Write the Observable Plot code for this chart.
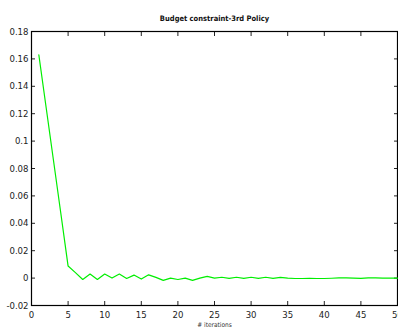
<!DOCTYPE html>
<html>
<head>
<meta charset="utf-8">
<script src="https://cdn.jsdelivr.net/npm/d3@7"></script>
<script src="https://cdn.jsdelivr.net/npm/@observablehq/plot@0.6"></script>
<style>
  html, body { margin: 0; padding: 0; background: #fff; }
  #chart svg { display: block; }
</style>
</head>
<body>
<div id="chart"></div>
<script>
const title = "Budget constraint-3rd Policy";
const xLabel = "# iterations";
const iterations = [1,2,3,4,5,6,7,8,9,10,11,12,13,14,15,16,17,18,19,20,21,22,23,24,25,26,27,28,29,30,31,32,33,34,35,36,37,38,39,40,41,42,43,44,45,46,47,48,49,50];
const budget = [0.163,0.1245,0.086,0.0475,0.0088,0.004,-0.001,0.003,-0.001,0.003,0.0,0.003,-0.0003,0.0022,-0.0007,0.0024,0.0005,-0.0017,0.0,-0.001,0.0,-0.0017,0.0,0.0012,0.0,0.0006,-0.0002,0.0006,-0.0002,0.0006,-0.0002,0.0006,-0.0002,0.0005,0.0,-0.0003,-0.0003,-0.0002,-0.0003,-0.0003,-0.0001,0.0001,0.0002,0.0,-0.0002,0.0001,0.0001,0.0,0.0,0.0];
const xTicks = [0,5,10,15,20,25,30,35,40,45,50];
const yTicks = [-0.02,0,0.02,0.04,0.06,0.08,0.1,0.12,0.14,0.16,0.18];

const data = iterations.map((x, i) => ({x, y: budget[i]}));
const fmt = d => String(+d.toFixed(2));
const font = "'DejaVu Sans Condensed', 'Liberation Sans', sans-serif";

const chart = Plot.plot({
  width: 398,
  height: 331,
  marginTop: 31,
  marginBottom: 26,
  marginLeft: 31,
  marginRight: 1,
  style: {fontFamily: font, fontSize: "9.5px", color: "#222", background: "#fff"},
  x: {domain: [0, 50], label: null},
  y: {domain: [-0.02, 0.18], label: null},
  marks: [
    Plot.axisX({ticks: xTicks, tickSize: 0, tickPadding: 6, tickFormat: d => String(d), label: null}),
    Plot.axisX({ticks: xTicks, tickSize: -4, tickFormat: () => "", label: null}),
    Plot.axisX({anchor: "top", ticks: xTicks, tickSize: -4, tickFormat: () => "", label: null}),
    Plot.axisY({ticks: yTicks, tickSize: 0, tickPadding: 3, tickFormat: fmt, label: null}),
    Plot.axisY({ticks: yTicks, tickSize: -4, tickFormat: () => "", label: null}),
    Plot.axisY({anchor: "right", ticks: yTicks, tickSize: -4, tickFormat: () => "", label: null}),
    Plot.frame({stroke: "#000", strokeWidth: 1.2}),
    Plot.line(data, {x: "x", y: "y", stroke: "#00ee00", strokeWidth: 1.2}),
    Plot.text([title], {frameAnchor: "top", dy: -16, fontWeight: "bold", fontSize: 7.5, fill: "#111"}),
    Plot.text([xLabel], {frameAnchor: "bottom", dy: 21, fontSize: 6.5, fill: "#333"})
  ]
});
document.getElementById("chart").appendChild(chart);
</script>
</body>
</html>
